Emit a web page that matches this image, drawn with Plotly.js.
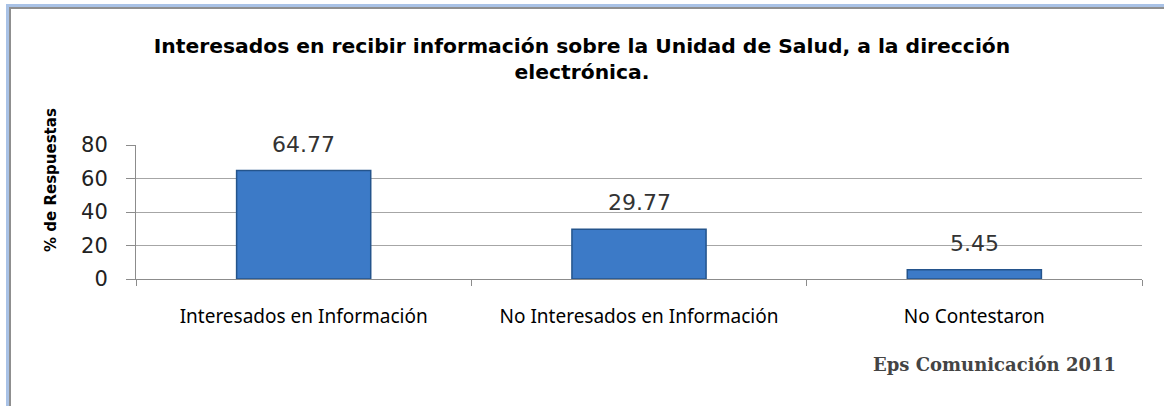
<!DOCTYPE html>
<html>
<head>
<meta charset="utf-8">
<script src="https://cdn.plot.ly/plotly-3.0.1.min.js"></script>
<style>
  html, body { margin: 0; padding: 0; background: #ffffff; }
  #wrap { position: relative; width: 1164px; height: 406px; overflow: hidden; }
  #chart { position: absolute; left: 0; top: 0; width: 1164px; height: 406px; }
  #frameOuter { position: absolute; left: 6px; top: 4px; width: 1200px; height: 500px;
    border-left: 3px solid #a9c2e6; border-top: 3px solid #a9c2e6; pointer-events: none; }
  #frameInner { position: absolute; left: 9px; top: 7px; width: 1200px; height: 500px;
    border-left: 2px solid #8f8f8f; border-top: 2px solid #8f8f8f; pointer-events: none; }
</style>
</head>
<body>
<div id="wrap">
  <div id="chart"></div>
  <div id="frameOuter"></div>
  <div id="frameInner"></div>
</div>
<script>
const categories = ["Interesados en Información", "No Interesados en Información", "No Contestaron"];
const values = [64.77, 29.77, 5.45];
const valueLabels = ["64.77", "29.77", "5.45"];
const yTicks = [0, 20, 40, 60, 80];
const chartTitle = "Interesados en recibir información sobre la Unidad de Salud, a la dirección<br>electrónica.";
const yTitle = "% de Respuestas";
const footer = "Eps Comunicación 2011";

const trace = {
  type: "bar",
  x: categories,
  y: values,
  width: 0.4,
  marker: { color: "#3c7ac7", line: { color: "#24548c", width: 1.5 } },
  hoverinfo: "skip"
};

const annotations = categories.map((c, i) => ({
  x: c, y: values[i], xref: "x", yref: "y",
  text: valueLabels[i], showarrow: false,
  yanchor: "bottom", yshift: 12,
  font: { family: "DejaVu Sans", size: 22, color: "#333333" }
}));

annotations.push({
  xref: "paper", yref: "paper", x: -0.0845, y: 0.739,
  xanchor: "center", yanchor: "middle",
  text: "<b>" + yTitle + "</b>", textangle: -90, showarrow: false,
  font: { family: "DejaVu Sans", size: 15, color: "#000000" }
});

annotations.push({
  xref: "paper", yref: "paper", x: 0.976, y: (279 - 364.5) / 134,
  xanchor: "right", yanchor: "middle",
  text: "<b>" + footer + "</b>", showarrow: false,
  font: { family: "DejaVu Serif", size: 18, color: "#444444" }
});

const layout = {
  width: 1164, height: 406,
  margin: { l: 136, r: 22, t: 145, b: 127, pad: 0 },
  paper_bgcolor: "#ffffff", plot_bgcolor: "#ffffff",
  showlegend: false,
  title: {
    text: "<b>" + chartTitle + "</b>",
    x: 0.5, xanchor: "center", xref: "container",
    y: 1 - 53 / 406, yanchor: "middle", yref: "container",
    font: { family: "DejaVu Sans", size: 20.3, color: "#000000" }
  },
  xaxis: {
    type: "category",
    showgrid: false,
    showline: true, linecolor: "#8c8c8c", linewidth: 1,
    ticks: "outside", tickson: "boundaries", ticklen: 6, tickcolor: "#8c8c8c",
    ticklabelstandoff: 20,
    tickfont: { family: "Noto Sans", size: 19, color: "#000000" },
    zeroline: false
  },
  yaxis: {
    range: [0, 80],
    tickvals: yTicks,
    ticktext: yTicks.map(String),
    showgrid: true, gridcolor: "#a6a6a6", gridwidth: 1,
    showline: true, linecolor: "#8c8c8c", linewidth: 1,
    ticks: "outside", ticklen: 9, tickcolor: "#8c8c8c",
    ticklabelstandoff: 14,
    tickfont: { family: "DejaVu Sans", size: 21, color: "#222222" },
    zeroline: false
  },
  annotations: annotations
};

Plotly.newPlot("chart", [trace], layout, { displayModeBar: false, staticPlot: true });
</script>
</body>
</html>
